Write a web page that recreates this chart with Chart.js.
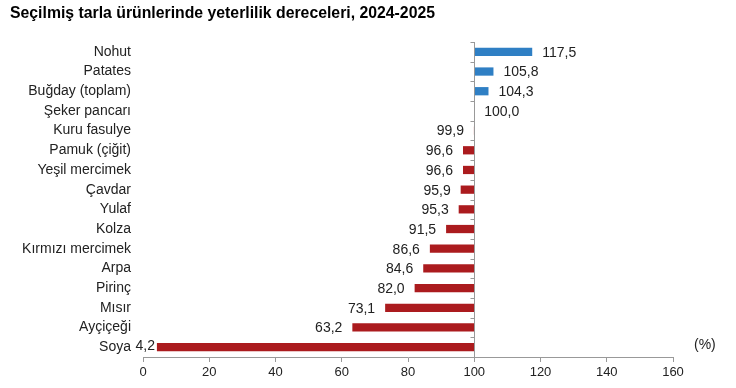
<!DOCTYPE html>
<html>
<head>
<meta charset="utf-8">
<script src="https://cdn.jsdelivr.net/npm/chart.js@4.4.1/dist/chart.umd.min.js"></script>
<style>
  html, body { margin: 0; padding: 0; background: #fff; }
  #wrap { width: 736px; height: 388px; position: relative; }
</style>
</head>
<body>
<div id="wrap"><canvas id="chart"></canvas></div>
<script>
// crops and their self-sufficiency ratio (%), 2024-2025
const crops = ['Nohut', 'Patates', 'Buğday (toplam)', 'Şeker pancarı', 'Kuru fasulye',
    'Pamuk (çiğit)', 'Yeşil mercimek', 'Çavdar', 'Yulaf', 'Kolza', 'Kırmızı mercimek',
    'Arpa', 'Pirinç', 'Mısır', 'Ayçiçeği', 'Soya'];
const ratios = [117.5, 105.8, 104.3, 100.0, 99.9, 96.6, 96.6, 95.9, 95.3, 91.5, 86.6,
    84.6, 82.0, 73.1, 63.2, 4.2];
const xTicks = [0, 20, 40, 60, 80, 100, 120, 140, 160];
const baseline = 100;

const blue = '#2f7fc4';
const red = '#ab1b1e';
const fontFamily = '"Liberation Sans", Arial, sans-serif';

const fmt = v => v.toFixed(1).replace('.', ',');

// title, "(%)" note, the 100 line with its category ticks, value labels
const extras = {
    id: 'extras',
    afterDatasetsDraw(chart) {
        const ctx = chart.ctx;
        const x = chart.scales.x;
        const y = chart.scales.y;
        const area = chart.chartArea;
        ctx.save();

        ctx.fillStyle = '#000';
        ctx.font = 'bold 15.8px ' + fontFamily;
        ctx.textAlign = 'left';
        ctx.textBaseline = 'middle';
        ctx.fillText('Seçilmiş tarla ürünlerinde yeterlilik dereceleri, 2024-2025', 10, 14);

        ctx.fillStyle = '#222';
        ctx.font = '14px ' + fontFamily;
        ctx.fillText('(%)', 694, 345);

        // vertical line at baseline
        const bx = Math.round(x.getPixelForValue(baseline)) + 0.5;
        ctx.strokeStyle = '#999';
        ctx.lineWidth = 1;
        ctx.beginPath();
        ctx.moveTo(bx, area.top);
        ctx.lineTo(bx, area.bottom);
        const step = (area.bottom - area.top) / crops.length;
        for (let i = 0; i <= crops.length; i++) {
            const ty = Math.round(area.top + i * step) + 0.5;
            ctx.moveTo(bx - 4, ty);
            ctx.lineTo(bx, ty);
        }
        ctx.stroke();

        // value labels
        ctx.fillStyle = '#222';
        ctx.font = '14px ' + fontFamily;
        ctx.textBaseline = 'middle';
        ratios.forEach((v, i) => {
            let py = y.getPixelForValue(i) + 1;
            const px = x.getPixelForValue(v);
            if (v >= baseline) {
                ctx.textAlign = 'left';
                ctx.fillText(fmt(v), px + 10, py);
            } else {
                ctx.textAlign = 'right';
                let lx = px - 10;
                // keep the label clear of the category names
                if (lx < area.left + 12) {
                    lx = area.left + 12;
                    py -= 2;
                }
                ctx.fillText(fmt(v), lx, py);
            }
        });
        ctx.restore();
    }
};

new Chart(document.getElementById('chart'), {
    type: 'bar',
    data: {
        labels: crops,
        datasets: [{
            data: ratios.map(v => [baseline, v]),
            backgroundColor: ratios.map(v => v >= baseline ? blue : red),
            borderWidth: 0,
            barPercentage: 0.42,
            categoryPercentage: 1
        }]
    },
    options: {
        indexAxis: 'y',
        responsive: true,
        maintainAspectRatio: false,
        animation: false,
        layout: { padding: { left: 0, right: 63, top: 42, bottom: 0 } },
        plugins: {
            legend: { display: false },
            tooltip: { enabled: false }
        },
        scales: {
            x: {
                min: 0,
                max: 160,
                afterBuildTicks: axis => { axis.ticks = xTicks.map(v => ({ value: v })); },
                afterFit: axis => { axis.height = 31; },
                grid: { drawOnChartArea: false, drawTicks: true, tickLength: 5, color: '#999' },
                border: { display: true, color: '#999' },
                ticks: {
                    color: '#222',
                    padding: 3,
                    autoSkip: false,
                    maxRotation: 0,
                    font: { family: fontFamily, size: 13 }
                }
            },
            y: {
                afterFit: axis => { axis.width = 143; },
                grid: { display: false },
                border: { display: false },
                ticks: {
                    color: '#222',
                    padding: 4,
                    autoSkip: false,
                    font: { family: fontFamily, size: 14 }
                }
            }
        }
    },
    plugins: [extras]
});
</script>
</body>
</html>
